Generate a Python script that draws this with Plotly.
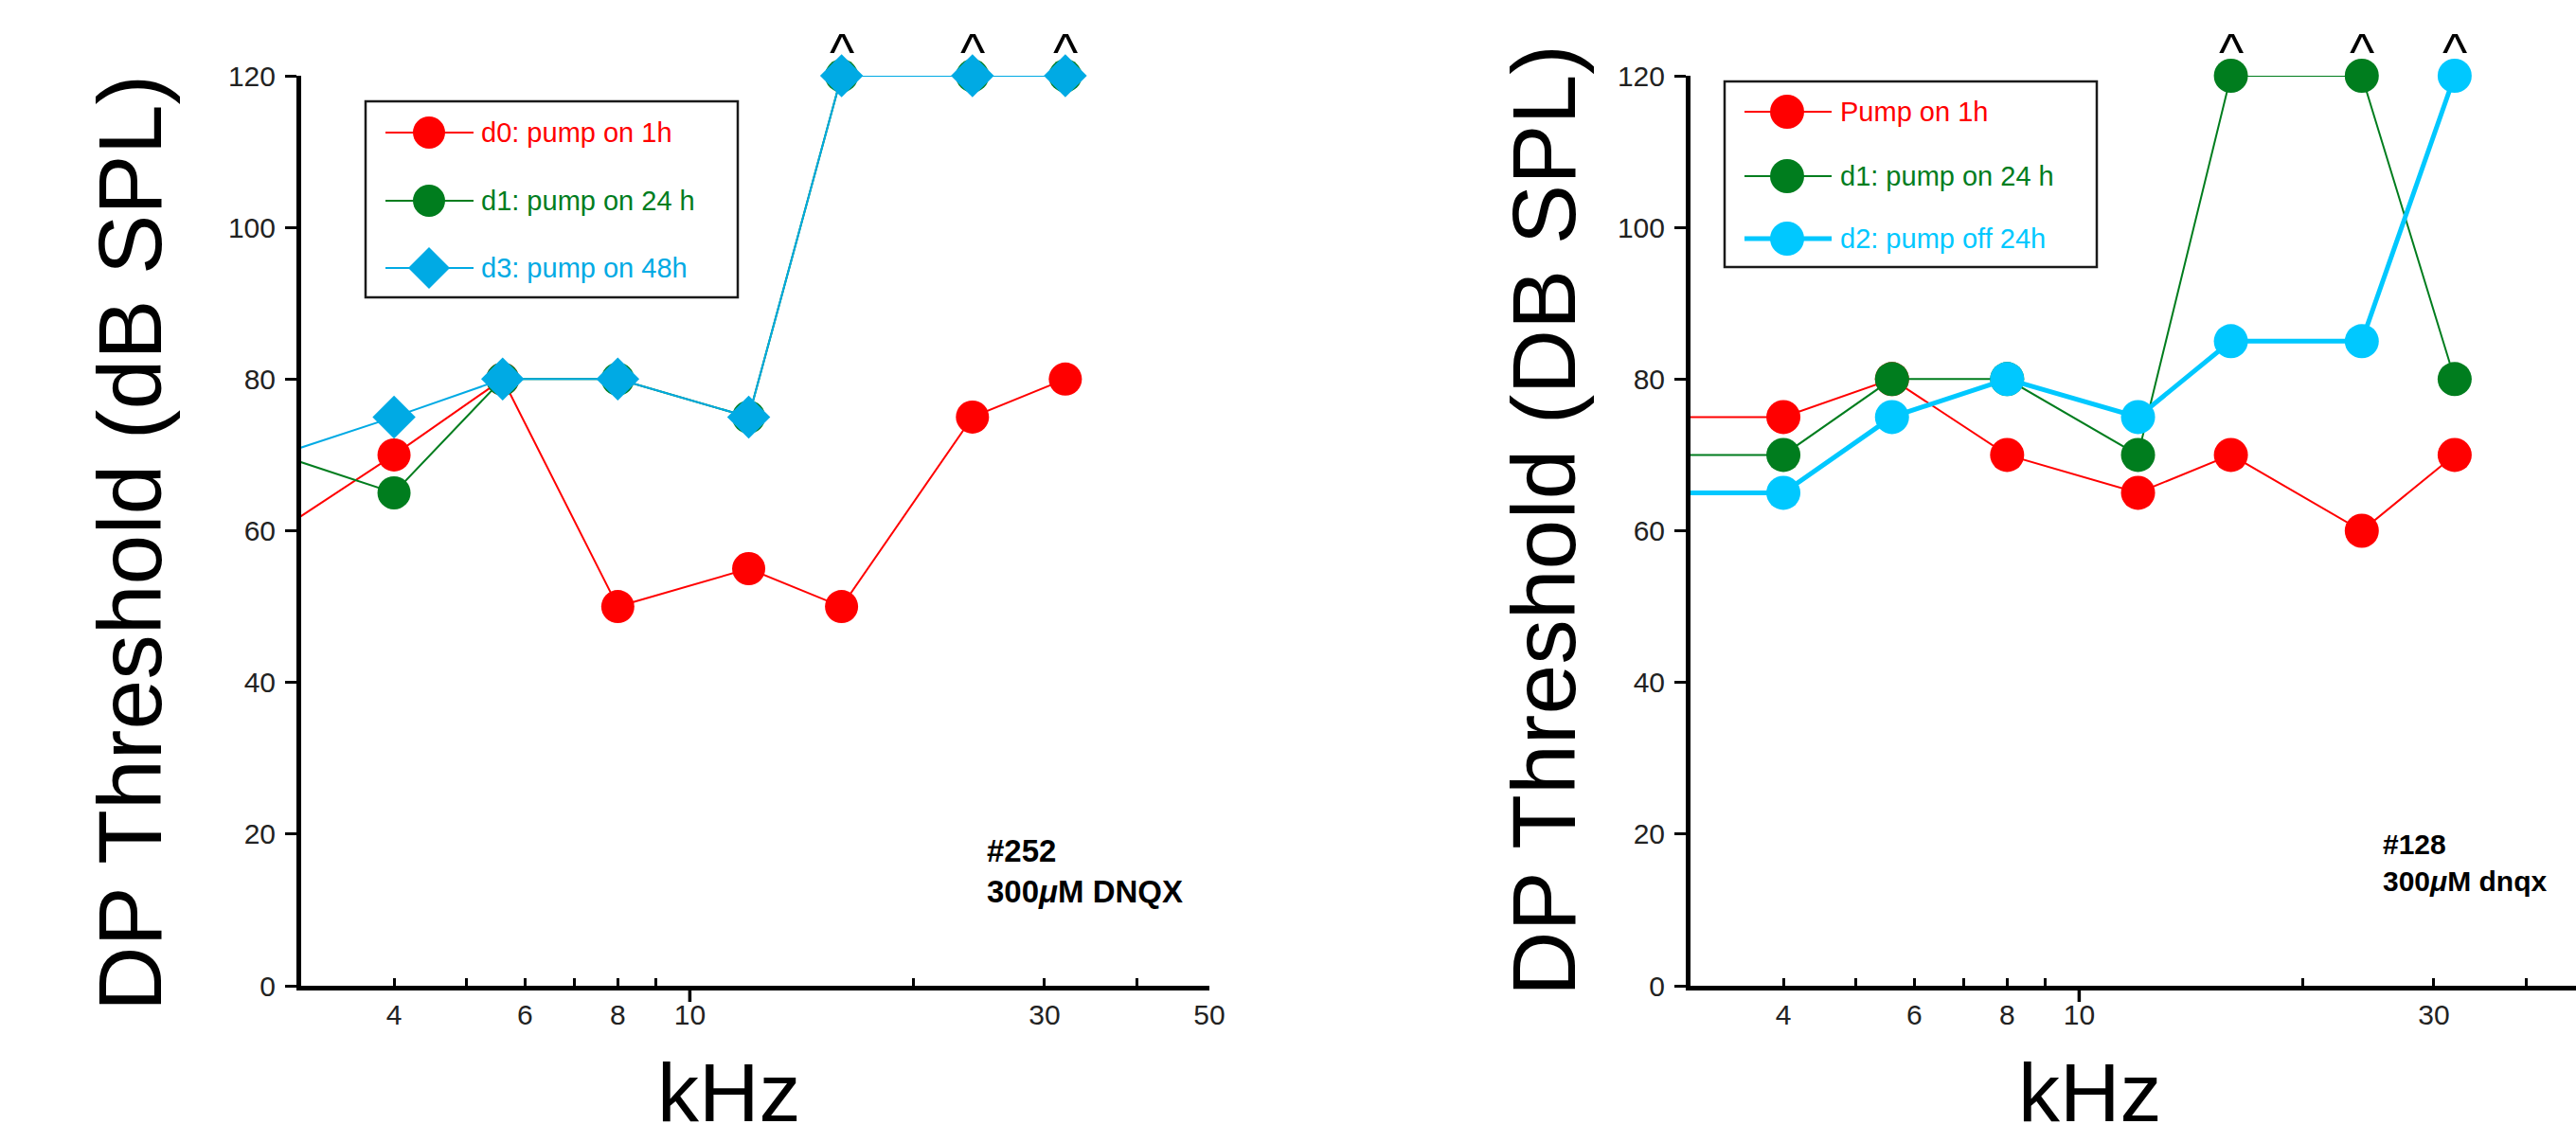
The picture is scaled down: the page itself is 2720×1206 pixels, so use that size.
import math
import plotly.graph_objects as go

# ---------------- data ----------------
freq_khz = [2.8, 4, 5.6, 8, 12, 16, 24, 32]

left_names = ["d0: pump on 1h", "d1: pump on 24 h", "d3: pump on 48h"]
left_d0 = [60, 70, 80, 50, 55, 50, 75, 80]
left_d1 = [70, 65, 80, 80, 75, 120, 120, 120]
left_d3 = [70, 75, 80, 80, 75, 120, 120, 120]

right_names = ["Pump on 1h", "d1: pump on 24 h", "d2: pump off 24h"]
right_d0 = [75, 75, 80, 70, 65, 70, 60, 70]
right_d1 = [70, 70, 80, 80, 70, 120, 120, 80]
right_d2 = [65, 65, 75, 80, 75, 85, 85, 120]

x_tick_marks = [4, 5, 6, 7, 8, 9, 20, 30, 40, 50]
x_tick_labels = [4, 6, 8, 10, 30, 50]
x_major_down = [10]
y_ticks = [0, 20, 40, 60, 80, 100, 120]

left_note = "<b>#252<br>300<i>μ</i>M DNQX</b>"
right_note = "<b>#128<br>300<i>μ</i>M dnqx</b>"
left_ytitle = "DP Threshold (dB SPL)"
right_ytitle = "DP Threshold (DB SPL)"
x_title = "kHz"

# ---------------- styles / layout ----------------
W, H = 2720, 1206
FONT = "Liberation Sans, Arial, Helvetica, sans-serif"
RED = "#FF0000"
GREEN = "#007D1E"
BLUE_A = "#00AAE4"
BLUE_B = "#00C8FF"
X_MIN, X_MAX = 3, 50
Y_MIN, Y_MAX = 0, 120

LX0, LX1 = 318, 1277
RX0 = 1785
Y_TOP, Y_BOT = 80, 1041


def px(x):
    return x / W


def py(y):
    return 1 - y / H


ppd = (LX1 - LX0) / (math.log10(X_MAX) - math.log10(X_MIN))
left_range = [math.log10(X_MIN), math.log10(X_MAX)]
right_range = [math.log10(X_MIN), math.log10(X_MIN) + (W - RX0) / ppd]
ydom = [py(Y_BOT), py(Y_TOP)]

fig = go.Figure()


def add_series(xa, ya, y, color, symbol, size, lw):
    sizes = [size if f >= X_MIN else 0 for f in freq_khz]
    fig.add_trace(go.Scatter(
        x=freq_khz, y=y, mode="lines+markers", xaxis=xa, yaxis=ya,
        line=dict(color=color, width=lw),
        marker=dict(symbol=symbol, size=sizes, color=color, opacity=1,
                    line=dict(width=0)),
        cliponaxis=False, showlegend=False, hoverinfo="skip"))


left_series = [(left_d0, RED, "circle", 35, 2),
               (left_d1, GREEN, "circle", 35, 2),
               (left_d3, BLUE_A, "diamond", 35, 2)]
right_series = [(right_d0, RED, "circle", 36, 2),
                (right_d1, GREEN, "circle", 36, 2),
                (right_d2, BLUE_B, "circle", 36, 5)]

for y, c, s, sz, lw in left_series:
    add_series("x", "y", y, c, s, sz, lw)
for y, c, s, sz, lw in right_series:
    add_series("x2", "y2", y, c, s, sz, lw)

# empty traces so the tick-label overlay axes get drawn
for xa, ya in (("x3", "y"), ("x4", "y2")):
    fig.add_trace(go.Scatter(x=[], y=[], xaxis=xa, yaxis=ya, mode="markers",
                             showlegend=False, hoverinfo="skip"))

tickfont = dict(family=FONT, size=30, color="#222222")

base_x = dict(type="log", tickmode="array", tickvals=x_tick_marks, ticks="inside",
              ticklen=8, tickwidth=3, tickcolor="black", showticklabels=False,
              showline=True, linewidth=5, linecolor="black", showgrid=False,
              zeroline=False)
label_x = dict(type="log", tickmode="array", tickvals=x_tick_labels,
               ticktext=[str(v) for v in x_tick_labels], ticks="",
               showline=False, showgrid=False, zeroline=False, showticklabels=True,
               tickfont=tickfont, ticklabelstandoff=10)
base_y = dict(range=[Y_MIN, Y_MAX], domain=ydom, tickmode="array", tickvals=y_ticks,
              ticks="outside", ticklen=12, tickwidth=3, tickcolor="black",
              showline=True, linewidth=5, linecolor="black", showgrid=False,
              zeroline=False, tickfont=tickfont, ticklabelstandoff=4)

xl_dom = [px(LX0), px(LX1)]
xr_dom = [px(RX0), 1.0]

fig.update_layout(
    width=W, height=H, autosize=False,
    margin=dict(l=0, r=0, t=0, b=0, pad=0, autoexpand=False),
    paper_bgcolor="white", plot_bgcolor="rgba(0,0,0,0)",
    font=dict(family=FONT, color="black"),
    showlegend=False,
    xaxis=dict(base_x, domain=xl_dom, range=left_range, anchor="y"),
    xaxis2=dict(base_x, domain=xr_dom, range=right_range, anchor="y2"),
    xaxis3=dict(label_x, domain=xl_dom, range=left_range, anchor="y", overlaying="x"),
    xaxis4=dict(label_x, domain=xr_dom, range=right_range, anchor="y2", overlaying="x2"),
    yaxis=dict(base_y, anchor="x"),
    yaxis2=dict(base_y, anchor="x2"),
)

shapes = []
annotations = []

# downward major tick at 10 kHz
for xa, rng in (("x", left_range), ("x2", right_range)):
    for v in x_major_down:
        frac = (math.log10(v) - rng[0]) / (rng[1] - rng[0])
        shapes.append(dict(type="line", xref=xa + " domain", yref="paper",
                           x0=frac, x1=frac, y0=ydom[0], y1=ydom[0] - 17 / H,
                           line=dict(color="black", width=3.5)))

# carets above off-scale points
for xa, ya, series in (("x", "y", [left_d0, left_d1, left_d3]),
                       ("x2", "y2", [right_d0, right_d1, right_d2])):
    for i, f in enumerate(freq_khz):
        if any(s[i] >= Y_MAX for s in series):
            annotations.append(dict(xref=xa, yref=ya, x=math.log10(f), y=Y_MAX,
                                    text="^", showarrow=False, yanchor="bottom",
                                    yshift=-8, font=dict(family=FONT, size=56, color="black")))


# manual legends
def build_legend(box, rows, line_x, mx, tx, names, styles, fsize):
    x0, y0, x1, y1 = box
    shapes.append(dict(type="rect", xref="paper", yref="paper",
                       x0=px(x0), x1=px(x1), y0=py(y1), y1=py(y0),
                       line=dict(color="#1a1a1a", width=2.5), fillcolor="white"))
    for ry, name, (color, symbol, r, lw) in zip(rows, names, styles):
        shapes.append(dict(type="line", xref="paper", yref="paper",
                           x0=px(line_x[0]), x1=px(line_x[1]), y0=py(ry), y1=py(ry),
                           line=dict(color=color, width=lw)))
        if symbol == "circle":
            shapes.append(dict(type="circle", xref="paper", yref="paper",
                               x0=px(mx - r), x1=px(mx + r), y0=py(ry + r), y1=py(ry - r),
                               fillcolor=color, line=dict(width=0)))
        else:
            path = "M {a},{b} L {c},{d} L {e},{f} L {g},{h} Z".format(
                a=px(mx - r), b=py(ry), c=px(mx), d=py(ry - r),
                e=px(mx + r), f=py(ry), g=px(mx), h=py(ry + r))
            shapes.append(dict(type="path", xref="paper", yref="paper", path=path,
                               fillcolor=color, line=dict(width=0)))
        annotations.append(dict(xref="paper", yref="paper", x=px(tx), y=py(ry),
                                xanchor="left", yanchor="middle", showarrow=False,
                                text=name, font=dict(family=FONT, size=fsize, color=color)))


build_legend((386, 107, 779, 314), [140, 212, 283], (407, 500), 453, 506, left_names,
             [(RED, "circle", 17, 2), (GREEN, "circle", 17, 2), (BLUE_A, "diamond", 22, 2)], 29)
build_legend((1821, 86, 2214, 282), [118, 186, 252], (1842, 1934), 1887, 1941, right_names,
             [(RED, "circle", 18, 2), (GREEN, "circle", 18, 2), (BLUE_B, "circle", 18, 5)], 29)

# notes
annotations.append(dict(xref="paper", yref="paper", x=px(1040), y=py(878), xanchor="left",
                        yanchor="top", align="left", showarrow=False, text=left_note,
                        font=dict(family=FONT, size=33, color="black")))
annotations.append(dict(xref="paper", yref="paper", x=px(2514), y=py(873), xanchor="left",
                        yanchor="top", align="left", showarrow=False, text=right_note,
                        font=dict(family=FONT, size=30, color="black")))

# axis titles
annotations.append(dict(xref="paper", yref="paper", x=px(137), y=py(574), textangle=-90,
                        xanchor="center", yanchor="middle", showarrow=False, text=left_ytitle,
                        font=dict(family=FONT, size=95, color="black")))
annotations.append(dict(xref="paper", yref="paper", x=px(1630), y=py(550), textangle=-90,
                        xanchor="center", yanchor="middle", showarrow=False, text=right_ytitle,
                        font=dict(family=FONT, size=95, color="black")))
annotations.append(dict(xref="paper", yref="paper", x=px(770), y=py(1205),
                        xanchor="center", yanchor="bottom", showarrow=False, text=x_title,
                        font=dict(family=FONT, size=88, color="black")))
annotations.append(dict(xref="paper", yref="paper", x=px(2207), y=py(1205),
                        xanchor="center", yanchor="bottom", showarrow=False, text=x_title,
                        font=dict(family=FONT, size=88, color="black")))

fig.update_layout(shapes=shapes, annotations=annotations)
fig.write_html("out.html", config={"displayModeBar": False},
               post_script="document.body.style.margin='0px';")
